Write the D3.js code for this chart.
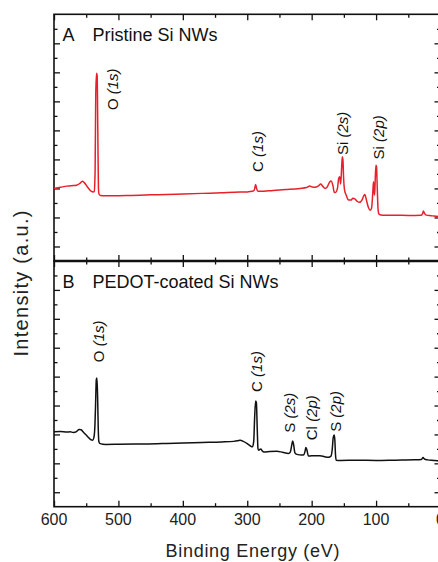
<!DOCTYPE html>
<html>
<head>
<meta charset="utf-8">
<script src="https://cdn.jsdelivr.net/npm/d3@7"></script>
<style>
  body { margin: 0; background: #fff; }
  svg { display: block; font-family: "Liberation Sans", Arial, sans-serif; }
  .tick line { stroke: #111; stroke-width: 1.3; }
</style>
</head>
<body>
<div id="chart-area"></div>
<script>
// XPS survey spectra (binding energy in eV, intensity in a.u.)
const pristineEnergy = [600, 590, 580, 570, 565, 560, 556, 553, 548, 542, 539, 537.5, 536.2, 535.2, 534, 533, 532, 531, 530, 528, 520,
  500, 480, 450, 425, 400, 370, 340, 320, 300, 292, 289, 287, 285.5, 283.5, 280, 260, 240, 218, 208, 203, 199, 195, 190, 186, 183,
  179, 176, 172, 170, 167, 165, 163, 160, 158, 156.5, 155, 153.5, 152.5, 151.5, 150.5, 149, 146, 143, 139, 136, 133, 129, 126, 122,
  119, 117.5, 115, 112, 109.5, 107, 105, 104, 103, 102.3, 101.5, 100.3, 99.3, 98.3, 97, 96, 94, 90, 70, 50, 30, 28, 26.5, 25, 22,
  15, 10, 6, 0];
const pristineIntensity = [2.0, 2.04, 2.08, 2.1, 2.11, 2.17, 2.25, 2.2, 2.05, 1.9, 1.88, 1.9, 2.6, 5.2, 5.97, 5.9, 4.0, 2.0, 1.8, 1.76, 1.745,
  1.75, 1.76, 1.78, 1.79, 1.81, 1.83, 1.85, 1.87, 1.88, 1.9, 1.95, 2.14, 2.0, 1.9, 1.9, 1.93, 1.96, 2.0, 2.03, 2.08, 2.05, 2.04, 2.08, 2.15, 2.08,
  2.0, 2.05, 2.22, 2.26, 2.1, 1.87, 1.86, 2.0, 2.35, 2.4, 2.15, 2.7, 3.09, 3.0, 2.4, 1.95, 1.75, 1.6, 1.6, 1.66, 1.64, 1.55, 1.52, 1.6,
  1.75, 1.79, 1.6, 1.35, 1.25, 1.32, 1.9, 2.23, 1.9, 1.77, 2.2, 2.8, 2.75, 2.1, 1.3, 1.14, 1.09, 1.08, 1.08, 1.07, 1.08, 1.12, 1.22, 1.15, 1.08,
  1.06, 1.05, 1.04, 1.02];

const pedotEnergy = [600, 590, 580, 575, 570, 565, 561, 558, 554, 548, 543, 540, 538, 536.5, 535.5, 534.3, 533.3, 532.3, 531.3, 530.3, 529,
  524, 520, 500, 470, 440, 425, 400, 370, 340, 321, 315, 311, 306, 300, 295, 292, 290, 288.5, 287, 285.8, 284.5, 283.3, 282, 280.5, 279,
  277, 274, 265, 254, 245, 236, 233, 231, 229.5, 228, 226, 223, 215.5, 212, 210, 209, 207.5, 205, 200, 187, 180, 174, 170, 168, 166.5,
  165, 164, 163, 162, 155, 130, 100, 70, 40, 30, 27, 25, 20, 10, 6, 0];
const pedotIntensity = [2.09, 2.1, 2.08, 2.09, 2.07, 2.1, 2.17, 2.16, 2.07, 1.93, 1.82, 1.8, 1.9, 2.3, 3.0, 3.9, 3.95, 3.3, 2.2, 1.75, 1.69,
  1.66, 1.655, 1.66, 1.67, 1.68, 1.69, 1.7, 1.72, 1.74, 1.76, 1.78, 1.8, 1.76, 1.68, 1.6, 1.57, 1.75, 2.6, 3.16, 3.1, 2.2, 1.5, 1.45, 1.48, 1.5,
  1.44, 1.39, 1.41, 1.42, 1.38, 1.34, 1.4, 1.62, 1.77, 1.65, 1.36, 1.31, 1.29, 1.3, 1.45, 1.55, 1.47, 1.25, 1.26, 1.26, 1.23, 1.21, 1.25, 1.5, 1.9,
  1.98, 1.8, 1.3, 1.11, 1.1, 1.11, 1.1, 1.11, 1.12, 1.13, 1.2, 1.15, 1.12, 1.1, 1.09, 1.08];

// peak labels: element, orbital, energy and intensity where the label starts
const pristinePeaks = [
  { el: 'O', orb: '(1s)', e: 500, v: 4.7 },
  { el: 'C', orb: '(1s)', e: 275.5, v: 2.57 },
  { el: 'Si', orb: '(2s)', e: 143.5, v: 3.15 },
  { el: 'Si', orb: '(2p)', e: 87.5, v: 3.0 }
];
const pedotPeaks = [
  { el: 'O', orb: '(1s)', e: 522.5, v: 4.5 },
  { el: 'C', orb: '(1s)', e: 277, v: 3.47 },
  { el: 'S', orb: '(2s)', e: 226, v: 2.06 },
  { el: 'Cl', orb: '(2p)', e: 192, v: 1.8 },
  { el: 'S', orb: '(2p)', e: 154, v: 2.09 }
];

const xMajor = [600, 500, 400, 300, 200, 100, 0];
const xMinor = [550, 450, 350, 250, 150, 50];
const yMajor = [0, 1, 2, 3, 4, 5, 6, 7];
const yMinor = [0.5, 1.5, 2.5, 3.5, 4.5, 5.5, 6.5, 7.5];

const W = 438, H = 562;
const left = 54, right = 440.5;
const topA = 14.3, mid = 261, bottomB = 506.7;

const svg = d3.select('#chart-area')
  .append('svg')
    .attr('width', W)
    .attr('height', H);

const x = d3.scaleLinear().domain([600, 0]).range([left, right]);
const yA = d3.scaleLinear().domain([-0.5, 8]).range([mid, topA]);
const yB = d3.scaleLinear().domain([-0.5, 8]).range([bottomB, mid]);

function drawPanel(y, energy, intensity, color, peaks, letter, title) {
  const g = svg.append('g');
  const y0 = y.range()[0], y1 = y.range()[1];

  // inward ticks on all four sides
  const axes = [
    [d3.axisLeft(y), 'translate(' + left + ',0)', yMajor, yMinor],
    [d3.axisRight(y), 'translate(' + right + ',0)', yMajor, yMinor],
    [d3.axisTop(x), 'translate(0,' + y1 + ')', xMajor, xMinor],
    [d3.axisBottom(x), 'translate(0,' + y0 + ')', xMajor, xMinor]
  ];
  axes.forEach(([ax, tr, major, minor]) => {
    g.append('g').attr('transform', tr)
      .call(ax.tickValues(major).tickSize(-6).tickFormat(''))
      .call(s => s.select('.domain').remove());
    g.append('g').attr('transform', tr)
      .call(ax.tickValues(minor).tickSize(-3.5).tickFormat(''))
      .call(s => s.select('.domain').remove());
  });

  g.append('rect')
    .attr('x', left).attr('y', y1)
    .attr('width', right - left).attr('height', y0 - y1)
    .attr('fill', 'none').attr('stroke', '#111').attr('stroke-width', 1.6);

  const pts = energy.map((e, i) => [e, intensity[i]]);
  const line = d3.line()
    .x(d => x(d[0]))
    .y(d => y(d[1]))
    .curve(d3.curveMonotoneX);
  g.append('path')
    .datum(pts)
    .attr('fill', 'none')
    .attr('stroke', color)
    .attr('stroke-width', 1.5)
    .attr('stroke-linejoin', 'round')
    .attr('d', line);

  peaks.forEach(p => {
    const t = g.append('text')
      .attr('transform', 'translate(' + x(p.e) + ',' + y(p.v) + ') rotate(-90)')
      .attr('font-size', '15px')
      .attr('fill', '#111');
    t.append('tspan').text(p.el + ' ');
    t.append('tspan').attr('font-style', 'italic').text(p.orb);
  });

  g.append('text')
    .attr('x', 62.5).attr('y', y1 + 26.5)
    .attr('font-size', '18px').attr('fill', '#111')
    .text(letter);
  g.append('text')
    .attr('x', 92.5).attr('y', y1 + 26.5)
    .attr('font-size', '18px').attr('fill', '#111')
    .text(title);
}

drawPanel(yA, pristineEnergy, pristineIntensity, '#e8202a', pristinePeaks, 'A', 'Pristine Si NWs');
drawPanel(yB, pedotEnergy, pedotIntensity, '#111', pedotPeaks, 'B', 'PEDOT-coated Si NWs');

// heavier divider between the panels
svg.append('line')
  .attr('x1', left).attr('x2', right)
  .attr('y1', mid).attr('y2', mid)
  .attr('stroke', '#111').attr('stroke-width', 2.4);

// tick labels on the bottom axis
svg.selectAll('.xlab')
  .data(xMajor)
  .enter().append('text')
    .attr('class', 'xlab')
    .attr('x', d => x(d))
    .attr('y', 525)
    .attr('text-anchor', 'middle')
    .attr('font-size', '16px')
    .attr('fill', '#222')
    .text(d => d);

svg.append('text')
  .attr('x', 252.5).attr('y', 557)
  .attr('text-anchor', 'middle')
  .attr('font-size', '18px')
  .attr('textLength', 174)
  .attr('lengthAdjust', 'spacing')
  .attr('fill', '#222')
  .text('Binding Energy (eV)');

svg.append('text')
  .attr('transform', 'translate(28,283.5) rotate(-90)')
  .attr('text-anchor', 'middle')
  .attr('font-size', '20px')
  .attr('textLength', 146)
  .attr('lengthAdjust', 'spacing')
  .attr('fill', '#222')
  .text('Intensity (a.u.)');
</script>
</body>
</html>
